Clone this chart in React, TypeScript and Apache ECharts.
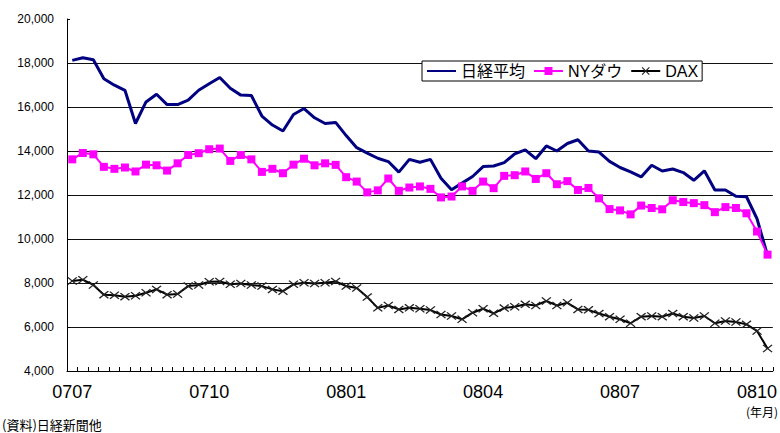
import React, { useEffect, useRef } from "react";
import * as echarts from "echarts";

const tickLabels = ["0707", "0710", "0801", "0804", "0807", "0810"];
const seriesNames = ["日経平均", "NYダウ", "DAX"];

const nikkei = [
  18120, 18240, 18150, 17280, 16990, 16760, 15250, 16230, 16580, 16110,
  16110, 16310, 16760, 17060, 17340, 16850, 16540, 16520, 15590, 15180,
  14910, 15660, 15930, 15510, 15250, 15300, 14700, 14150, 13900, 13670,
  13520, 13040, 13620, 13490, 13620, 12760, 12240, 12540, 12840, 13290,
  13320, 13470, 13870, 14050, 13650, 14230, 14000, 14340, 14510, 14000,
  13950, 13530, 13250, 13050, 12820, 13350, 13090, 13180, 13020, 12670,
  13100, 12230, 12230, 11940, 11920, 10920, 9250,
];

const nyDow = [
  13620, 13910, 13850, 13280, 13190, 13250, 13070, 13380, 13350, 13110,
  13440, 13820, 13900, 14080, 14110, 13550, 13820, 13620, 13050, 13190,
  12990, 13380, 13650, 13350, 13440, 13370, 12810, 12610, 12120, 12210,
  12750, 12190, 12340, 12390, 12280, 11890, 11930, 12390, 12190, 12610,
  12310, 12870, 12900, 13070, 12730, 12990, 12490, 12630, 12230, 12320,
  11850, 11360, 11300, 11120, 11520, 11410, 11350, 11760, 11680, 11630,
  11540, 11220, 11450, 11410, 11170, 10340, 9290,
];

const dax = [
  8090, 8150, 7910, 7470, 7440, 7380, 7420, 7560, 7710, 7470,
  7500, 7860, 7910, 8060, 8070, 7940, 7980, 7910, 7860, 7710,
  7630, 7940, 8010, 7980, 8010, 8070, 7860, 7770, 7360, 6870,
  6980, 6800, 6870, 6830, 6770, 6570, 6500, 6350, 6650, 6830,
  6620, 6860, 6920, 7030, 6980, 7180, 6980, 7100, 6800, 6780,
  6610, 6470, 6350, 6170, 6470, 6500, 6470, 6610, 6470, 6410,
  6500, 6170, 6270, 6230, 6120, 5820, 5020,
];

const weeks = nikkei.map((_, i) => `W${i + 1}`);
const LABEL_EVERY = 13;

const X_PATH =
  "path://M0,1L1,0L5,4L9,0L10,1L6,5L10,9L9,10L5,6L1,10L0,9L4,5Z";

const LATIN = "Arial, 'Liberation Sans', sans-serif";
const MIXED = "Arial, 'Noto Sans CJK JP', sans-serif";

export default function App() {
  const ref = useRef<HTMLDivElement>(null);

  useEffect(() => {
    const chart = echarts.init(ref.current!, null, { renderer: "svg" });
    chart.setOption({
      animation: false,
      backgroundColor: "#fff",
      grid: { left: 67, right: 2, top: 19, bottom: 62 },
      legend: {
        left: 422,
        top: 61,
        orient: "horizontal",
        backgroundColor: "#fff",
        borderColor: "#000",
        borderWidth: 1,
        borderRadius: 0,
        padding: [2, 4, 2, 4],
        itemWidth: 29,
        itemHeight: 10,
        itemGap: 8,
        textStyle: { fontSize: 16, color: "#000", fontFamily: MIXED },
        data: [
          { name: seriesNames[0], itemStyle: { opacity: 0 } },
          seriesNames[1],
          seriesNames[2],
        ],
      },
      xAxis: {
        type: "category",
        data: weeks,
        boundaryGap: true,
        axisLine: { show: true, lineStyle: { color: "#000", width: 1 } },
        axisTick: {
          show: true,
          inside: true,
          length: 4,
          interval: 0,
          lineStyle: { color: "#000" },
        },
        axisLabel: {
          interval: LABEL_EVERY - 1,
          margin: 12,
          fontSize: 18,
          color: "#000",
          fontFamily: "'Liberation Sans Narrow', 'Arial Narrow', " + LATIN,
          formatter: (_v: string, idx: number) =>
            tickLabels[Math.round(idx / LABEL_EVERY)] ?? "",
        },
        splitLine: { show: false },
      },
      yAxis: {
        type: "value",
        min: 4000,
        max: 20000,
        interval: 2000,
        axisLine: { show: true, lineStyle: { color: "#000", width: 1 } },
        axisTick: { show: true, inside: true, length: 3, lineStyle: { color: "#000" } },
        axisLabel: {
          margin: 13,
          fontSize: 12,
          color: "#000",
          fontFamily: LATIN,
          formatter: (v: number) => v.toLocaleString("en-US"),
        },
        splitLine: {
          show: true,
          showMaxLine: false,
          lineStyle: { color: "#111", width: 1 },
        },
      },
      series: [
        {
          name: seriesNames[0],
          type: "line",
          data: nikkei,
          symbol: "none",
          lineStyle: { color: "#000080", width: 3 },
          itemStyle: { color: "#000080" },
        },
        {
          name: seriesNames[1],
          type: "line",
          data: nyDow,
          symbol: "rect",
          symbolSize: 8,
          showAllSymbol: true,
          lineStyle: { color: "#FF00FF", width: 2 },
          itemStyle: { color: "#FF00FF" },
        },
        {
          name: seriesNames[2],
          type: "line",
          data: dax,
          symbol: X_PATH,
          symbolSize: [10, 8],
          showAllSymbol: true,
          lineStyle: { color: "#000", width: 2 },
          itemStyle: { color: "#222" },
        },
      ],
      graphic: [
        {
          type: "text",
          right: 2,
          top: 405,
          style: {
            text: "(年月)",
            font: "12px 'Noto Sans CJK JP', sans-serif",
            fill: "#000",
          },
        },
        {
          type: "text",
          left: 2,
          top: 418,
          style: {
            text: "(資料)日経新聞他",
            font: "13px 'Noto Sans CJK JP', sans-serif",
            fill: "#000",
          },
        },
      ],
    });
    return () => chart.dispose();
  }, []);

  return (
    <div
      ref={ref}
      style={{ position: "absolute", left: 0, top: 0, width: 780, height: 433 }}
    />
  );
}
